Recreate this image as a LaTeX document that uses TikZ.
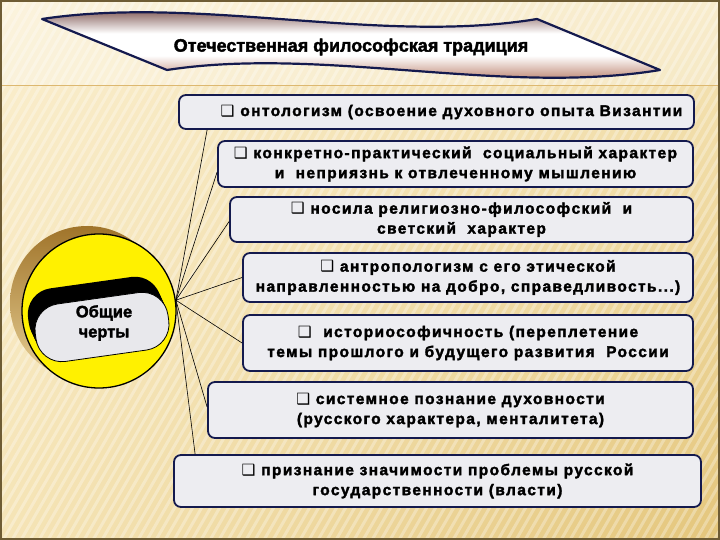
\documentclass[tikz,border=0pt]{standalone}
\usepackage{fontspec}
\setmainfont{Liberation Sans}[BoldFeatures={FakeBold=2}]
\newfontfamily\symfont{DejaVu Sans}
\newfontfamily\boxfont{Liberation Sans}[LetterSpace=9,BoldFeatures={FakeBold=2}]
\usetikzlibrary{shadings}

\definecolor{bglight}{RGB}{250,238,206}
\definecolor{bgcream}{RGB}{245,228,182}
\definecolor{bggold}{RGB}{228,198,124}
\definecolor{frameline}{RGB}{110,92,52}
\definecolor{navyline}{RGB}{20,26,78}
\definecolor{boxfill}{RGB}{237,237,241}
\definecolor{ribbontop}{RGB}{140,104,100}
\definecolor{ribbonbot}{RGB}{196,146,128}
\definecolor{discyellow}{RGB}{255,241,0}
\definecolor{shadowdark}{RGB}{160,116,42}
\definecolor{shadowlight}{RGB}{232,208,150}
\definecolor{pillgray}{RGB}{232,232,236}

\pgfdeclareverticalshading{ribbonshade}{100bp}{color(0bp)=(ribbonbot); color(34bp)=(ribbonbot);
  color(45bp)=(white); color(56bp)=(white); color(67bp)=(ribbontop); color(100bp)=(ribbontop)}

\newcommand{\chk}{{\symfont ❑}~}

\begin{document}
\begin{tikzpicture}[x=1pt,y=-1pt,
  feature node/.style={draw=navyline,line width=1.8pt,rounded corners=7pt,fill=boxfill,
    align=center,inner sep=0pt,font=\boxfont\bfseries\fontsize{15.5}{20}\selectfont},
  spoke/.style={draw=black,line width=0.6pt}]

  \useasboundingbox (0,0) rectangle (720,540);

  % background
  \shade[upper left=bglight,upper right=bgcream,lower left=bgcream,lower right=bggold]
    (0,0) rectangle (720,540);
  \begin{scope}
    \clip (0,0) rectangle (720,540);
    \foreach \s in {-330,-321,...,720}
      \draw[white,opacity=0.3,line width=3pt] (\s,540) -- (\s+312,0);
  \end{scope}
  \fill[white,opacity=0.3] (0,0) rectangle (720,85);
  \draw[bggold!80!brown,line width=0.8pt] (0,85) -- (720,85);
  \draw[frameline,line width=2pt] (1,1) rectangle (719,539);

  % title ribbon
  \draw[navyline,line width=2.2pt,line join=round,shading=ribbonshade]
    (42,19) .. controls (200,-5) and (380,45) .. (537,19) -- (660,70)
    .. controls (503,96) and (323,46) .. (167,70) -- cycle;
  \node[font=\bfseries\fontsize{18}{20}\selectfont] (title) at (351,47)
    {Отечественная философская традиция};

  % disc
  \shade[top color=shadowdark,bottom color=shadowlight] (87,303) circle (77);
  \node[circle,draw=black,line width=1.3pt,fill=discyellow,minimum size=154pt,
    inner sep=0pt] (c) at (99,311) {};
  \foreach \k in {1,...,6}
    \fill[black,shift={(-1.2*\k,-2.6*\k)},rotate around={8:(102,327)},rounded corners=26pt]
      (35,298) rectangle (169,356);
  \draw[black,line width=0.8pt,fill=pillgray,rotate around={8:(102,327)},rounded corners=26pt]
    (35,298) rectangle (169,356);
  \node[align=center,text=black,font=\bfseries\fontsize{16.5}{20}\selectfont]
    (label) at (104,323) {Общие\\черты};

  % features
  \node[feature node,minimum width=515pt,minimum height=34pt] (1) at (436.5,112)
    {\hspace*{30pt}\chk онтологизм (освоение духовного опыта Византии};
  \node[feature node,minimum width=475pt,minimum height=46pt] (2) at (455.5,164)
    {\chk конкретно-практический\ \ социальный характер\\и\ \ неприязнь к отвлеченному мышлению};
  \node[feature node,minimum width=463pt,minimum height=45pt] (3) at (461.5,219.5)
    {\chk носила религиозно-философский\ \ и\\светский\ \ характер};
  \node[feature node,minimum width=450pt,minimum height=49pt] (4) at (468,277.5)
    {\chk антропологизм с его этической\\направленностью на добро, справедливость...)};
  \node[feature node,minimum width=450pt,minimum height=56pt] (5) at (468,343)
    {\chk\ историософичность (переплетение\\темы прошлого и будущего развития\ \ России};
  \node[feature node,minimum width=485pt,minimum height=56pt] (6) at (450.5,410)
    {\chk системное познание духовности\\(русского характера, менталитета)};
  \node[feature node,minimum width=527pt,minimum height=52pt] (7) at (437.5,481)
    {\chk признание значимости проблемы русской\\государственности (власти)};

  \path[spoke]
    (c.8) edge ([xshift=29pt]1.south west)
    (c.8) edge ([yshift=-8pt]2.west)
    (c.8) edge ([yshift=-2pt]3.west)
    (c.8) edge (4.west)
    (c.8) edge (5.west)
    (c.8) edge ([yshift=3pt]6.west)
    (c.8) edge ([xshift=22pt]7.north west);

\end{tikzpicture}
\end{document}
